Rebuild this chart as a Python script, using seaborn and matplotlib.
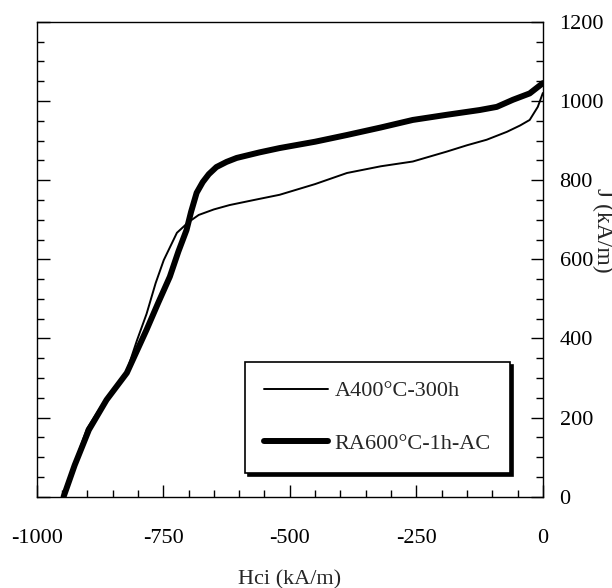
import numpy as np
import pandas as pd
import matplotlib
matplotlib.use('Agg')
import matplotlib.pyplot as plt
from matplotlib.ticker import MultipleLocator
import seaborn as sns

# ── Data ──────────────────────────────────────────────
thin_label  = 'A400°C-300h'
thick_label = 'RA600°C-1h-AC'

thin_h = [-947, -925, -901, -862, -822, -802, -783, -765, -749, -723, -700,
          -680, -650, -619, -570, -520, -450, -387, -320, -257, -190, -150,
          -111, -71, -45, -26, -10, 0]
thin_j = [0, 85, 172, 250, 318, 395, 462, 540, 598, 667, 694,
          712, 726, 737, 750, 763, 790, 818, 835, 847, 872, 888,
          902, 922, 938, 952, 985, 1020]

thick_h = [-947, -925, -897, -862, -822, -783, -760, -737, -720, -704, -695,
           -684, -672, -660, -645, -625, -605, -560, -520, -450, -387, -320,
           -257, -190, -125, -91, -59, -26, 0]
thick_j = [0, 80, 169, 245, 313, 422, 490, 556, 620, 674, 720,
           768, 795, 815, 833, 846, 856, 870, 881, 897, 914, 933,
           952, 965, 977, 985, 1003, 1019, 1045]

df = pd.concat([
    pd.DataFrame({'H': thin_h, 'J': thin_j, 'sample': thin_label}),
    pd.DataFrame({'H': thick_h, 'J': thick_j, 'sample': thick_label}),
])

# ── Style ─────────────────────────────────────────────
sns.set_style('ticks')
plt.rcParams['font.family'] = ['Liberation Serif', 'DejaVu Serif']
plt.rcParams['axes.unicode_minus'] = False

fig = plt.figure(figsize=(6.12, 5.88), dpi=100)
ax = fig.add_axes([0.060, 0.155, 0.827, 0.808])

sns.lineplot(data=df, x='H', y='J', hue='sample', size='sample',
             palette={thin_label: 'black', thick_label: 'black'},
             sizes={thin_label: 1.4, thick_label: 4.3},
             sort=False, estimator=None, ax=ax)

ax.set_xlim(-1000, 0)
ax.set_ylim(0, 1200)
ax.xaxis.set_major_locator(MultipleLocator(250))
ax.xaxis.set_minor_locator(MultipleLocator(50))
ax.yaxis.set_major_locator(MultipleLocator(200))
ax.yaxis.set_minor_locator(MultipleLocator(50))

ax.tick_params(axis='both', which='both', direction='in', colors='black',
               labelsize=16, width=1)
ax.tick_params(axis='x', which='major', length=9, pad=23)
ax.tick_params(axis='x', which='minor', length=5)
ax.tick_params(axis='y', which='major', length=9, left=True, right=True,
               labelleft=False, labelright=True, pad=12)
ax.tick_params(axis='y', which='minor', length=5, left=True, right=True)
for s in ax.spines.values():
    s.set_visible(True)
    s.set_linewidth(1)
    s.set_color('black')

ax.set_xlabel('Hci (kA/m)', fontsize=16, labelpad=16)
ax.yaxis.set_label_position('right')
ax.set_ylabel('J (kA/m)', fontsize=17, rotation=270, va='center')
ax.yaxis.set_label_coords(1.117, 0.56)

handles, labels = ax.get_legend_handles_labels()
leg = ax.legend(handles, labels, loc='lower right',
                bbox_to_anchor=(0.935, 0.05), fontsize=16,
                frameon=True, fancybox=False, edgecolor='black',
                framealpha=1, labelspacing=1.45, handlelength=2.9,
                handletextpad=0.3, borderpad=0.85, borderaxespad=0,
                shadow={'color': 'black', 'alpha': 1})
leg.get_frame().set_linewidth(1.2)

fig.savefig('out.png', dpi=100)
